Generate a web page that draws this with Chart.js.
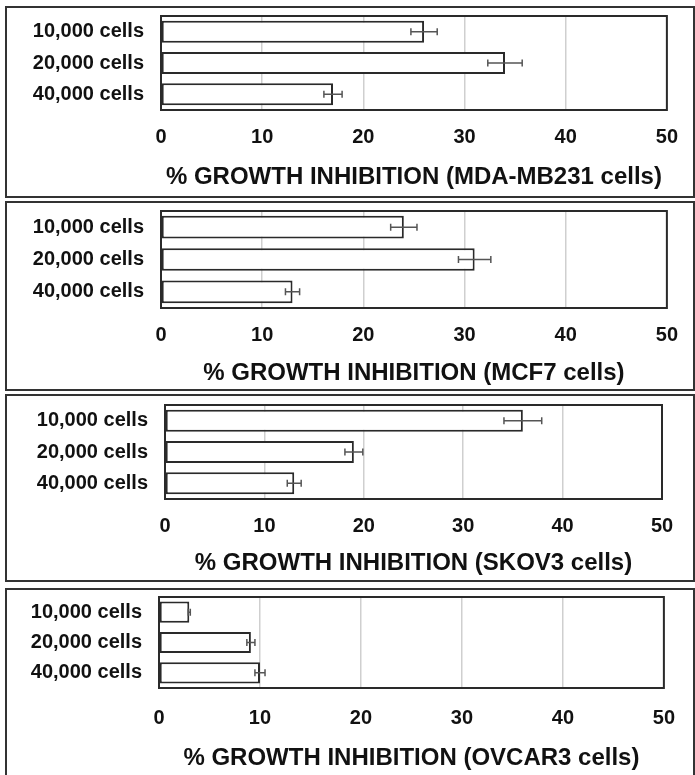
<!DOCTYPE html>
<html>
<head>
<meta charset="utf-8">
<script src="https://cdn.jsdelivr.net/npm/chart.js@4.4.0/dist/chart.umd.min.js"></script>
<style>
    html, body { margin: 0; padding: 0; background: #fff; }
    body { width: 695px; height: 775px; position: relative; overflow: hidden; }
    .panel { position: absolute; left: 5px; width: 690px; border: 2px solid #333; box-sizing: border-box; }
    .panel .inner { position: relative; width: 100%; height: 100%; }
</style>
</head>
<body>
<div class="panel" id="p0"><div class="inner"><canvas id="c0"></canvas></div></div>
<div class="panel" id="p1"><div class="inner"><canvas id="c1"></canvas></div></div>
<div class="panel" id="p2"><div class="inner"><canvas id="c2"></canvas></div></div>
<div class="panel" id="p3"><div class="inner"><canvas id="c3"></canvas></div></div>
<script>
// dados
const categorias = ['10,000 cells', '20,000 cells', '40,000 cells'];
const xMin = 0, xMax = 50, xStep = 10;

const titulos = [
    '% GROWTH INHIBITION (MDA-MB231 cells)',
    '% GROWTH INHIBITION (MCF7 cells)',
    '% GROWTH INHIBITION (SKOV3 cells)',
    '% GROWTH INHIBITION (OVCAR3 cells)'
];

const mdaValores = [26, 34, 17];
const mdaErros = [1.3, 1.7, 0.9];
const mcf7Valores = [24, 31, 13];
const mcf7Erros = [1.3, 1.6, 0.7];
const skov3Valores = [36, 19, 13];
const skov3Erros = [1.9, 0.9, 0.7];
const ovcar3Valores = [3, 9.1, 10];
const ovcar3Erros = [0.1, 0.4, 0.5];

const valores = [mdaValores, mcf7Valores, skov3Valores, ovcar3Valores];
const erros = [mdaErros, mcf7Erros, skov3Erros, ovcar3Erros];

// layout de cada painel
const paineis = [
    { top: 6,   height: 192, yWidth: 154, padTop: 8, padRight: 19, xHeight: 86, tickPad: 15, titlePad: 4 },
    { top: 201, height: 190, yWidth: 154, padTop: 8, padRight: 24, xHeight: 81, tickPad: 15, titlePad: 1 },
    { top: 394, height: 188, yWidth: 158, padTop: 9, padRight: 31, xHeight: 81, tickPad: 15, titlePad: 2 },
    { top: 588, height: 192, yWidth: 152, padTop: 7, padRight: 26, xHeight: 90, tickPad: 18, titlePad: 5 }
];

const fonte = '"Liberation Sans", Arial, sans-serif';

const moldura = {
    id: 'moldura',
    afterDatasetsDraw(chart) {
        const { ctx, chartArea: a } = chart;
        ctx.save();
        ctx.strokeStyle = '#2a2a2a';
        ctx.lineWidth = 2;
        ctx.strokeRect(a.left, a.top, a.right - a.left, a.bottom - a.top);
        ctx.restore();
    }
};

const barrasErro = {
    id: 'barrasErro',
    afterDatasetsDraw(chart) {
        const { ctx } = chart;
        const x = chart.scales.x;
        const meta = chart.getDatasetMeta(0);
        const ds = chart.data.datasets[0];
        ctx.save();
        ctx.strokeStyle = '#555';
        ctx.lineWidth = 1.5;
        meta.data.forEach((bar, i) => {
            const v = ds.data[i], e = ds.erros[i];
            const x1 = x.getPixelForValue(v - e), x2 = x.getPixelForValue(v + e);
            const y = bar.y;
            ctx.beginPath();
            ctx.moveTo(x1, y); ctx.lineTo(x2, y);
            ctx.moveTo(x1, y - 3.5); ctx.lineTo(x1, y + 3.5);
            ctx.moveTo(x2, y - 3.5); ctx.lineTo(x2, y + 3.5);
            ctx.stroke();
        });
        ctx.restore();
    }
};

paineis.forEach((p, k) => {
    const div = document.getElementById('p' + k);
    div.style.top = p.top + 'px';
    div.style.height = p.height + 'px';

    new Chart(document.getElementById('c' + k).getContext('2d'), {
        type: 'bar',
        data: {
            labels: categorias,
            datasets: [{
                data: valores[k],
                erros: erros[k],
                backgroundColor: '#fff',
                borderColor: '#2a2a2a',
                borderWidth: 2,
                borderSkipped: false,
                categoryPercentage: 1,
                barPercentage: 0.7
            }]
        },
        options: {
            indexAxis: 'y',
            responsive: true, maintainAspectRatio: false,
            animation: false,
            devicePixelRatio: 1,
            layout: { padding: { top: p.padTop, right: p.padRight, left: 0, bottom: 0 } },
            plugins: { legend: { display: false }, tooltip: { enabled: false } },
            scales: {
                x: {
                    min: xMin, max: xMax,
                    ticks: { stepSize: xStep, padding: p.tickPad, color: '#111', font: { family: fonte, size: 20, weight: 'bold' } },
                    grid: { color: '#cfcfcf', lineWidth: 1.5, drawTicks: false },
                    border: { display: false },
                    title: {
                        display: true, text: titulos[k], color: '#111',
                        font: { family: fonte, size: 24, weight: 'bold' },
                        padding: { top: 0, bottom: p.titlePad }
                    },
                    afterFit: s => { s.height = p.xHeight; }
                },
                y: {
                    ticks: { autoSkip: false, padding: 17, color: '#111', font: { family: fonte, size: 20, weight: 'bold' } },
                    grid: { display: false, drawTicks: false },
                    border: { display: false },
                    afterFit: s => { s.width = p.yWidth; s.paddingTop = 0; s.paddingBottom = 0; }
                }
            }
        },
        plugins: [moldura, barrasErro]
    });
});
</script>
</body>
</html>
